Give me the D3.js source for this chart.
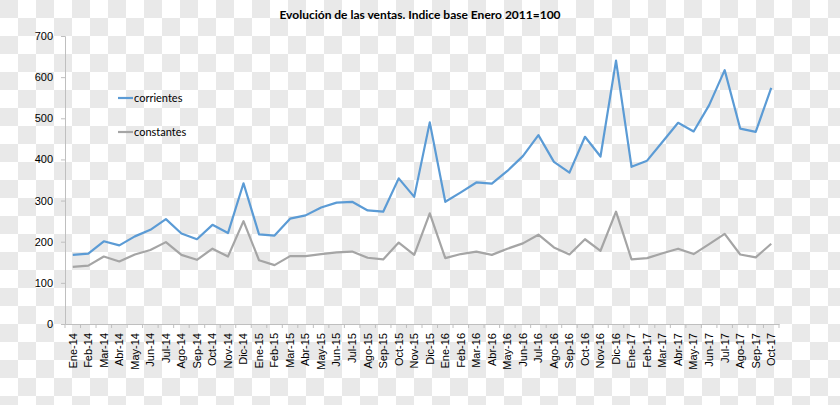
<!DOCTYPE html>
<html>
<head>
<meta charset="utf-8">
<script src="https://cdn.jsdelivr.net/npm/d3@7"></script>
<style>
  body { margin: 0; }
  svg { display: block; font-family: Lato, "Open Sans", sans-serif; }
</style>
</head>
<body>
<div id="container"></div>
<script>
const months = ["Ene-14","Feb-14","Mar-14","Abr-14","May-14","Jun-14","Jul-14","Ago-14","Sep-14","Oct-14","Nov-14","Dic-14",
  "Ene-15","Feb-15","Mar-15","Abr-15","May-15","Jun-15","Jul-15","Ago-15","Sep-15","Oct-15","Nov-15","Dic-15",
  "Ene-16","Feb-16","Mar-16","Abr-16","May-16","Jun-16","Jul-16","Ago-16","Sep-16","Oct-16","Nov-16","Dic-16",
  "Ene-17","Feb-17","Mar-17","Abr-17","May-17","Jun-17","Jul-17","Ago-17","Sep-17","Oct-17"];

const corrientes = [168,171,201,191,213,229,255,220,206,241,221,342,
  218,215,256,264,283,295,297,276,273,354,309,490,
  297,320,344,341,372,408,459,394,368,455,407,640,
  382,397,443,489,468,532,617,475,467,574];

const constantes = [139,142,164,152,169,180,199,168,156,183,164,250,
  155,143,165,165,170,174,176,161,157,198,168,269,
  160,170,176,168,183,196,217,186,169,206,178,273,
  157,160,172,183,170,194,219,169,162,195];

const yTicks = [0,100,200,300,400,500,600,700];

const series = [
  {name: "corrientes", values: corrientes, color: "#5b9bd5"},
  {name: "constantes", values: constantes, color: "#a5a5a5"}
];

const w = 840, h = 405;
const mLeft = 65, mRight = 779, mTop = 36, mBottom = 324;

const svg = d3.select("#container").append("svg")
  .attr("width", w)
  .attr("height", h);

// checkered background (transparent png look)
const pat = svg.append("defs").append("pattern")
  .attr("id", "checks")
  .attr("patternUnits", "userSpaceOnUse")
  .attr("width", 36).attr("height", 36);
pat.append("rect").attr("width", 36).attr("height", 36).attr("fill", "#ffffff");
pat.append("rect").attr("width", 18).attr("height", 18).attr("fill", "#e9e9e9");
pat.append("rect").attr("x", 18).attr("y", 18).attr("width", 18).attr("height", 18).attr("fill", "#e9e9e9");
svg.append("rect").attr("width", w).attr("height", h).attr("fill", "url(#checks)");

const x = d3.scaleBand().domain(months).range([mLeft, mRight]);
const y = d3.scaleLinear().domain([0, 700]).range([mBottom, mTop]);

// title
svg.append("text")
  .attr("x", 420).attr("y", 19)
  .attr("text-anchor", "middle")
  .style("font-size", "12px")
  .style("font-weight", "bold")
  .text("Evolución de las ventas. Indice base Enero 2011=100");

// y axis
const yAxis = svg.append("g")
  .attr("transform", `translate(${mLeft},0)`)
  .call(d3.axisLeft(y).tickValues(yTicks).tickSize(4).tickPadding(8).tickFormat(d3.format("d")));
yAxis.select(".domain").attr("stroke", "#bfbfbf");
yAxis.selectAll(".tick line").attr("stroke", "#bfbfbf");
yAxis.selectAll("text").style("font-size", "11px").attr("fill", "#000");

// x axis
const xAxis = svg.append("g")
  .attr("transform", `translate(0,${mBottom})`)
  .call(d3.axisBottom(x).tickSize(0).tickSizeOuter(0));
xAxis.select(".domain").attr("stroke", "#bfbfbf");
xAxis.selectAll(".tick text")
  .style("font-size", "11px")
  .attr("fill", "#000")
  .attr("text-anchor", "end")
  .attr("transform", "translate(0,9) rotate(-90)")
  .attr("x", 0).attr("y", 0).attr("dy", "0.35em");

// tick marks at band boundaries
const bounds = months.map((m) => x(m)).concat([mRight]);
svg.append("g").selectAll("line")
  .data(bounds)
  .enter().append("line")
  .attr("x1", (d) => d).attr("x2", (d) => d)
  .attr("y1", mBottom).attr("y2", mBottom + 4)
  .attr("stroke", "#bfbfbf");

// lines
const line = d3.line()
  .x((d, i) => x(months[i]) + x.bandwidth() / 2)
  .y((d) => y(d));

svg.selectAll(".series")
  .data(series)
  .enter().append("path")
  .attr("class", "series")
  .attr("fill", "none")
  .attr("stroke", (d) => d.color)
  .attr("stroke-width", 2.2)
  .attr("stroke-linejoin", "round")
  .attr("d", (d) => line(d.values));

// legend
const legend = svg.append("g").selectAll("g")
  .data(series)
  .enter().append("g")
  .attr("transform", (d, i) => `translate(118,${98 + i * 34})`);
legend.append("line")
  .attr("x1", 0).attr("x2", 15)
  .attr("stroke", (d) => d.color)
  .attr("stroke-width", 2.2);
legend.append("text")
  .attr("x", 16).attr("dy", "0.35em")
  .style("font-size", "11px")
  .text((d) => d.name);
</script>
</body>
</html>
